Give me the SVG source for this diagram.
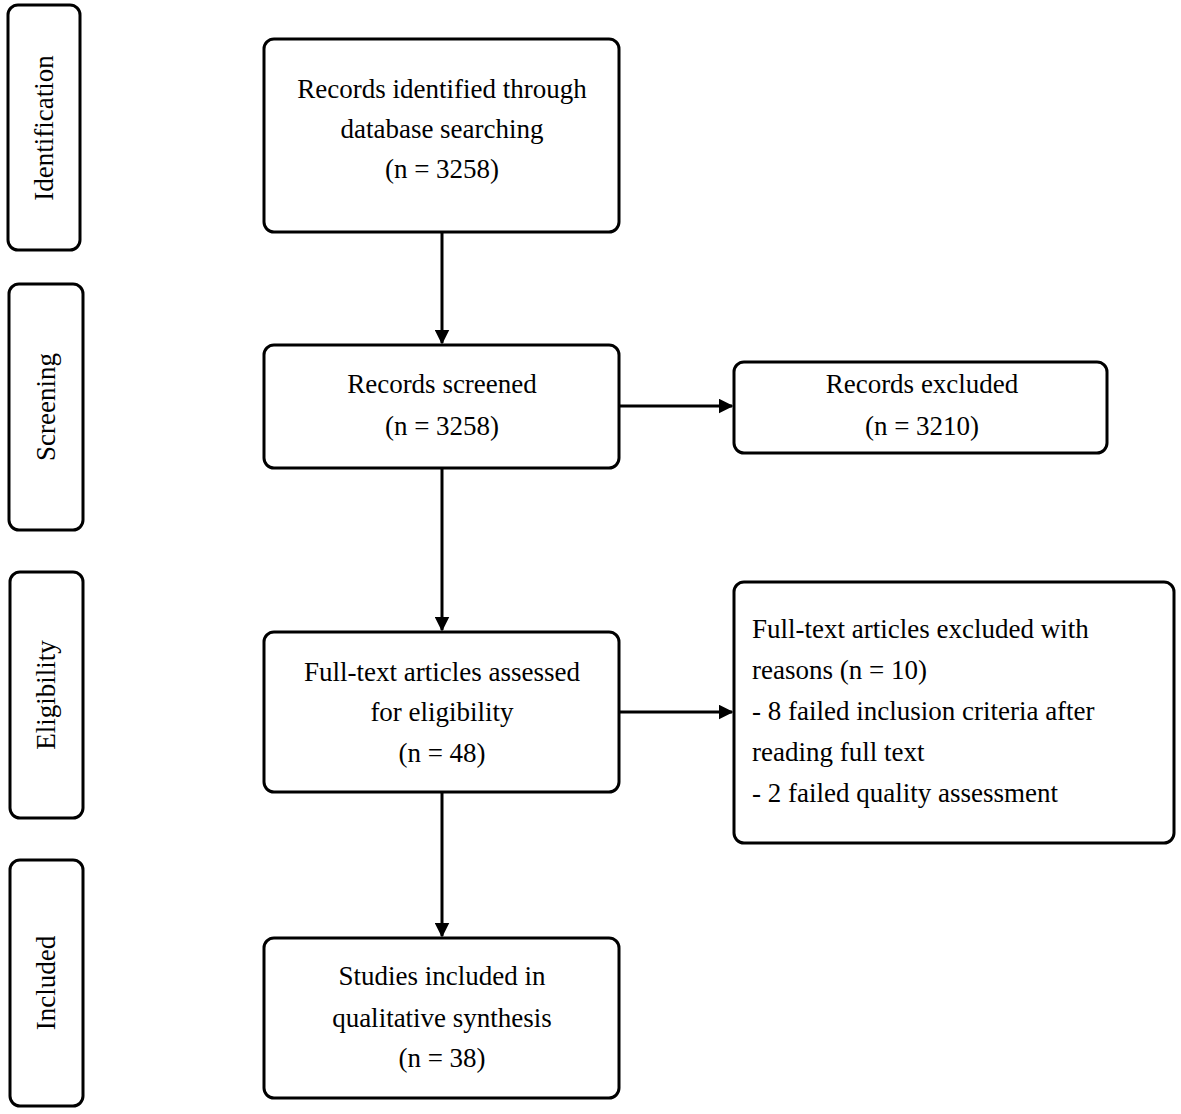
<svg xmlns="http://www.w3.org/2000/svg" width="1181" height="1114" viewBox="0 0 1181 1114">
<defs>
<style>
rect{fill:#fff;stroke:#000;stroke-width:3}
text{font-family:"Liberation Serif",serif;font-size:27px;fill:#000}
.c{text-anchor:middle}
.ln{stroke:#000;stroke-width:3;fill:none}
</style>
<marker id="a" viewBox="0 0 10 10" refX="9" refY="5" markerWidth="5" markerHeight="5" orient="auto" markerUnits="strokeWidth"><path d="M0,0L10,5L0,10z" fill="#000"/></marker>
</defs>
<rect width="1181" height="1114" style="stroke:none"/>
<g id="side-identification"><rect x="8" y="5" width="72" height="245" rx="10"/><text class="c" transform="translate(53,128) rotate(-90)">Identification</text></g>
<g id="side-screening"><rect x="9" y="284" width="74" height="246" rx="10"/><text class="c" transform="translate(55,407) rotate(-90)">Screening</text></g>
<g id="side-eligibility"><rect x="10" y="572" width="73" height="246" rx="10"/><text class="c" transform="translate(55,695) rotate(-90)">Eligibility</text></g>
<g id="side-included"><rect x="10" y="860" width="73" height="246" rx="10"/><text class="c" transform="translate(55,983) rotate(-90)">Included</text></g>
<g id="n1"><rect x="264" y="39" width="355" height="193" rx="10"/><text class="c" x="442" y="98">Records identified through</text><text class="c" x="442" y="138">database searching</text><text class="c" x="442" y="178">(n = 3258)</text></g>
<g id="n2"><rect x="264" y="345" width="355" height="123" rx="10"/><text class="c" x="442" y="393">Records screened</text><text class="c" x="442" y="435">(n = 3258)</text></g>
<g id="n3"><rect x="264" y="632" width="355" height="160" rx="10"/><text class="c" x="442" y="681">Full-text articles assessed</text><text class="c" x="442" y="721">for eligibility</text><text class="c" x="442" y="762">(n = 48)</text></g>
<g id="n4"><rect x="264" y="938" width="355" height="160" rx="10"/><text class="c" x="442" y="985">Studies included in</text><text class="c" x="442" y="1027">qualitative synthesis</text><text class="c" x="442" y="1067">(n = 38)</text></g>
<g id="r1"><rect x="734" y="362" width="373" height="91" rx="10"/><text class="c" x="922" y="393">Records excluded</text><text class="c" x="922" y="435">(n = 3210)</text></g>
<g id="r2"><rect x="734" y="582" width="440" height="261" rx="10"/><text x="752" y="638">Full-text articles excluded with</text><text x="752" y="679">reasons (n = 10)</text><text x="752" y="720">- 8 failed inclusion criteria after</text><text x="752" y="761">reading full text</text><text x="752" y="802">- 2 failed quality assessment</text></g>
<g id="connectors">
<line class="ln" x1="442" y1="232" x2="442" y2="343" marker-end="url(#a)"/>
<line class="ln" x1="442" y1="468" x2="442" y2="630" marker-end="url(#a)"/>
<line class="ln" x1="442" y1="792" x2="442" y2="936" marker-end="url(#a)"/>
<line class="ln" x1="619" y1="406" x2="732" y2="406" marker-end="url(#a)"/>
<line class="ln" x1="619" y1="712" x2="732" y2="712" marker-end="url(#a)"/>
</g>
</svg>
